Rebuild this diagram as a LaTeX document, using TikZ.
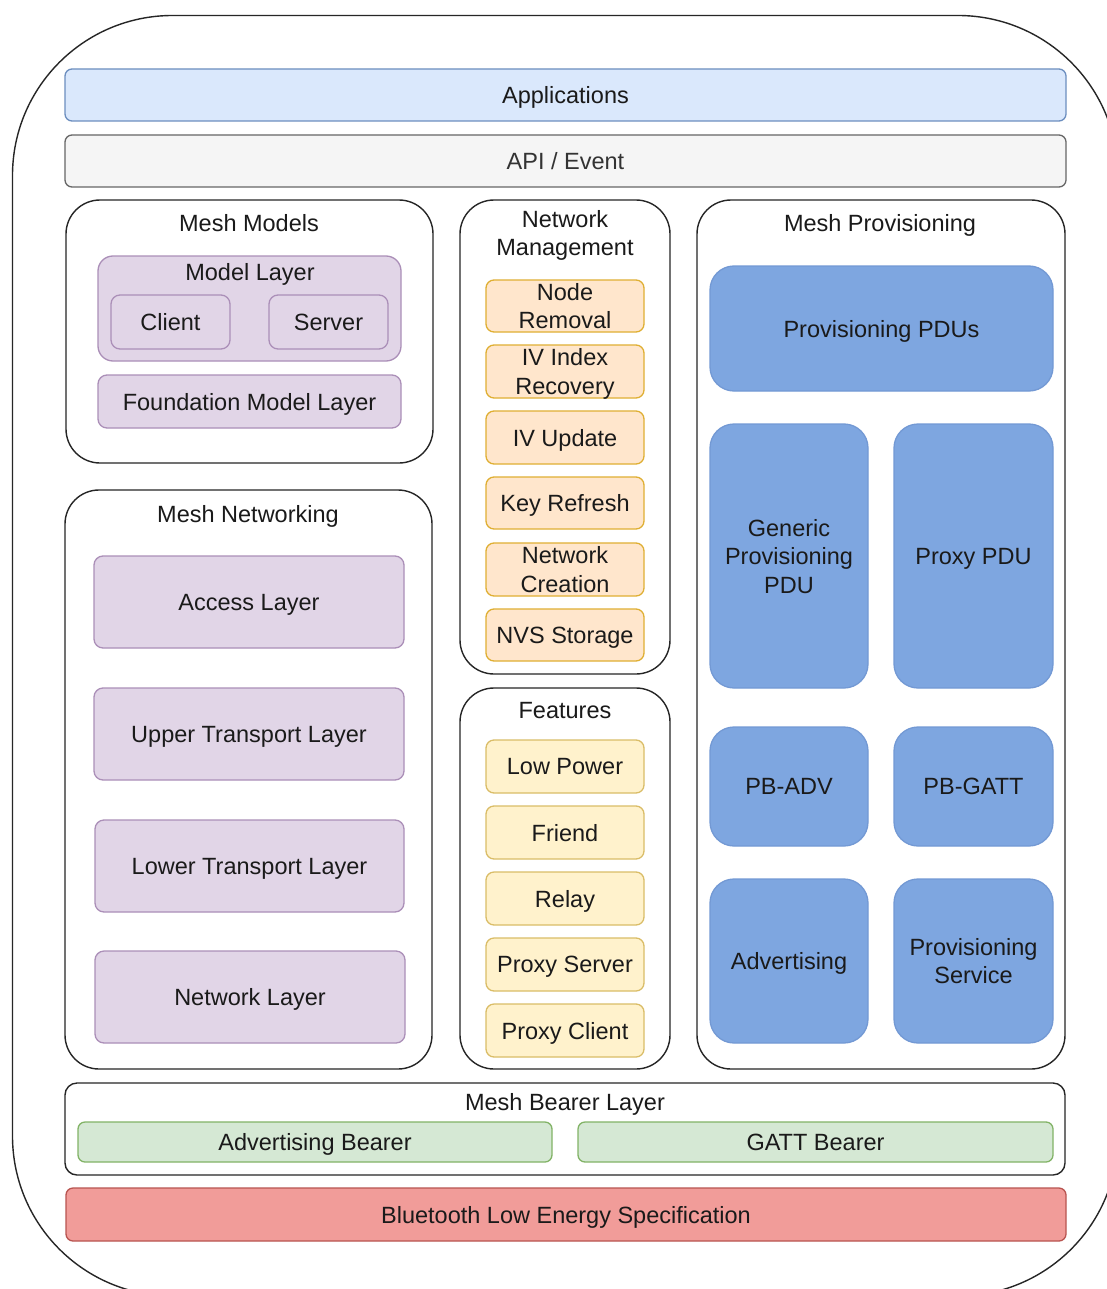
\documentclass[tikz,border=0pt]{standalone}
\usepackage{fontspec}
\setmainfont{Liberation Sans}
\definecolor{txt}{HTML}{1A1A1A}
\definecolor{appF}{HTML}{DAE8FC}\definecolor{appD}{HTML}{6C8EBF}
\definecolor{apiF}{HTML}{F5F5F5}\definecolor{apiD}{HTML}{666666}\definecolor{apiT}{HTML}{333333}
\definecolor{purF}{HTML}{E1D5E7}\definecolor{purD}{HTML}{9673A6}
\definecolor{orF}{HTML}{FFE6CC}\definecolor{orD}{HTML}{D79B00}
\definecolor{yeF}{HTML}{FFF2CC}\definecolor{yeD}{HTML}{D6B656}
\definecolor{blF}{HTML}{7EA6E0}\definecolor{blD}{HTML}{7399D4}
\definecolor{grF}{HTML}{D5E8D4}\definecolor{grD}{HTML}{82B366}
\definecolor{reF}{HTML}{F19C99}\definecolor{reD}{HTML}{B85450}
\newcommand\fs{\fontsize{23.5}{28.5}\selectfont}
\newcommand\bxn[7]{%
  \pgfmathsetmacro\bxw{#5-#3}%
  \pgfmathsetmacro\bxh{#6-#4}%
  \pgfmathsetmacro\bxx{(#3+#5)/2}%
  \pgfmathsetmacro\bxy{(#4+#6)/2}%
  \node[#1, minimum width=\bxw pt, minimum height=\bxh pt] (#2) at (\bxx,\bxy) {#7};%
}
\tikzset{
  every node/.style={font=\fs, align=center, inner sep=0pt, outer sep=0pt, text=txt, text depth=0pt},
  cont/.style={draw=black!85, line width=1.4pt, rounded corners=34pt},
  bearercont/.style={draw=black!85, line width=1.4pt, rounded corners=12pt},
  appbox/.style={draw=appD, fill=appF, line width=1.3pt, rounded corners=7pt},
  apibox/.style={draw=apiD, fill=apiF, line width=1.3pt, rounded corners=7pt, text=apiT},
  purbig/.style={draw=purD!80, fill=purF, line width=1.3pt, rounded corners=15pt},
  purbox/.style={draw=purD!80, fill=purF, line width=1.3pt, rounded corners=9pt},
  orbox/.style={draw=orD!80, fill=orF, line width=1.3pt, rounded corners=8pt},
  yebox/.style={draw=yeD!90, fill=yeF, line width=1.3pt, rounded corners=8pt},
  blbox/.style={draw=blD, fill=blF, line width=1.3pt, rounded corners=24pt},
  grbox/.style={draw=grD, fill=grF, line width=1.3pt, rounded corners=7pt},
  rebox/.style={draw=reD, fill=reF, line width=1.3pt, rounded corners=7pt},
  title/.style={}
}
\begin{document}
\begin{tikzpicture}[x=1pt,y=-1pt]
\useasboundingbox (0,0) rectangle (1107,1289);
\fill[white] (0,0) rectangle (1107,1289);
\clip (0,0) rectangle (1107,1289);
\draw[line width=1.4pt, draw=black!85, rounded corners=160pt] (12.5,15.5) rectangle (1118,1296);

\bxn{appbox}{app}{65}{69}{1066}{121}{Applications}
\bxn{apibox}{api}{65}{135}{1066}{187}{API / Event}

% Mesh Models
\bxn{cont}{mm}{66}{200}{433}{463}{}
\node[title] (mmT) at (249,223) {Mesh Models};
\bxn{purbig}{ml}{98}{256}{401}{361}{}
\node[title] (mlT) at (250,272) {Model Layer};
\bxn{purbox}{client}{111}{295}{230}{349}{Client}
\bxn{purbox}{server}{269}{295}{388}{349}{Server}
\bxn{purbox}{fml}{98}{375}{401}{428}{Foundation Model Layer}

% Mesh Networking
\bxn{cont}{mn}{65}{490}{432}{1069}{}
\node[title] (mnT) at (248,514) {Mesh Networking};
\bxn{purbox}{access}{94}{556}{404}{648}{Access Layer}
\bxn{purbox}{upper}{94}{688}{404}{780}{Upper Transport Layer}
\bxn{purbox}{lower}{95}{820}{404}{912}{Lower Transport Layer}
\bxn{purbox}{netl}{95}{951}{405}{1043}{Network Layer}

% Network Management
\bxn{cont}{nm}{460}{200}{670}{674}{}
\node[title] (nmT) at (565,233) {Network\\Management};
\bxn{orbox}{noderem}{486}{280}{644}{332}{Node\\Removal}
\bxn{orbox}{ivrec}{486}{345}{644}{398}{IV Index\\Recovery}
\bxn{orbox}{ivupd}{486}{411}{644}{464}{IV Update}
\bxn{orbox}{keyref}{486}{477}{644}{529}{Key Refresh}
\bxn{orbox}{netcre}{486}{543}{644}{596}{Network\\Creation}
\bxn{orbox}{nvs}{486}{609}{644}{661}{NVS Storage}

% Features
\bxn{cont}{feat}{460}{688}{670}{1069}{}
\node[title] (featT) at (565,710) {Features};
\bxn{yebox}{lowp}{486}{740}{644}{793}{Low Power}
\bxn{yebox}{friend}{486}{806}{644}{859}{Friend}
\bxn{yebox}{relay}{486}{872}{644}{925}{Relay}
\bxn{yebox}{pserver}{486}{938}{644}{991}{Proxy Server}
\bxn{yebox}{pclient}{486}{1004}{644}{1057}{Proxy Client}

% Mesh Provisioning
\bxn{cont}{mp}{697}{200}{1065}{1069}{}
\node[title] (mpT) at (880,223) {Mesh Provisioning};
\bxn{blbox}{ppdus}{710}{266}{1053}{391}{Provisioning PDUs}
\bxn{blbox}{gpp}{710}{424}{868}{688}{Generic\\Provisioning\\PDU}
\bxn{blbox}{ppdu}{894}{424}{1053}{688}{Proxy PDU}
\bxn{blbox}{pbadv}{710}{727}{868}{846}{PB-ADV}
\bxn{blbox}{pbgatt}{894}{727}{1053}{846}{PB-GATT}
\bxn{blbox}{adv}{710}{879}{868}{1043}{Advertising}
\bxn{blbox}{psvc}{894}{879}{1053}{1043}{Provisioning\\Service}

% Bearer
\bxn{bearercont}{mbl}{65}{1083}{1065}{1175}{}
\node[title] (mblT) at (565,1102) {Mesh Bearer Layer};
\bxn{grbox}{advb}{78}{1122}{552}{1162}{Advertising Bearer}
\bxn{grbox}{gattb}{578}{1122}{1053}{1162}{GATT Bearer}

\bxn{rebox}{ble}{66}{1188}{1066}{1241}{Bluetooth Low Energy Specification}
\end{tikzpicture}
\end{document}
